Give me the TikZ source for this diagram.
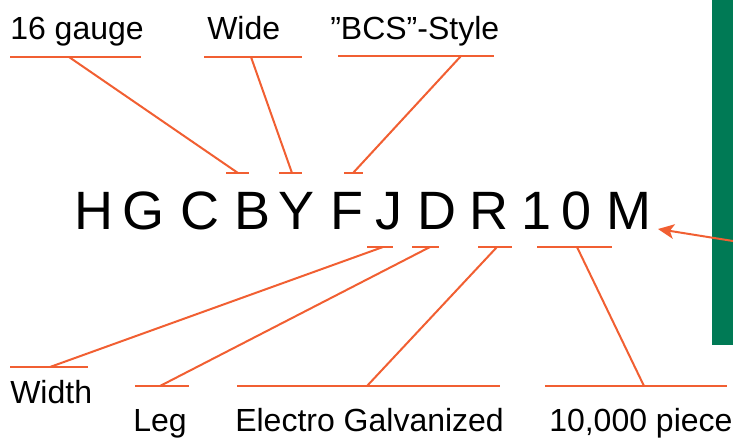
\documentclass[tikz,border=0pt]{standalone}
\usepackage{fontspec}
\setmainfont{Liberation Sans}
\usetikzlibrary{arrows.meta}
\definecolor{tagorange}{HTML}{F15F32}
\definecolor{taggreen}{HTML}{007A55}

\begin{document}
\begin{tikzpicture}[
    x=0.75pt, y=-0.75pt,
    lbl/.style={anchor=base west, inner sep=0pt, font=\fontsize{24}{29}\selectfont},
    code/.style={anchor=base, inner sep=0pt, font=\fontsize{40.5}{48}\selectfont},
    tick/.style={line width=1.5pt, tagorange},
]
    \useasboundingbox (0, 0) rectangle (733, 437);
    \fill[taggreen] (712, 0) rectangle (733, 345);

    % the part number, letter by letter
    \foreach \ch/\px [count=\i] in {H/94, G/144, C/200, B/253, Y/297, F/347, J/389, D/437, R/489, 1/537, 0/577, M/629}
        \node[code] (c\i) at (\px, 229.5) {\ch};

    % labels above
    \node[lbl] (gauge) at (10, 39) {16 gauge};
    \node[lbl] (wide) at (207, 39) {Wide};
    \node[lbl] (bcs) at (330, 39) {”BCS”-Style};

    % labels below
    \node[lbl] (width) at (10, 403) {Width};
    \node[lbl] (leg) at (133, 431) {Leg};
    \node[lbl] (galv) at (235, 431) {Electro Galvanized};
    \node[lbl] (pieces) at (549, 431) {10,000 piece};

    % underlines of the labels
    \draw[tick] (10, 57) -- (141, 57);
    \draw[tick] (204, 57) -- (302, 57);
    \draw[tick] (338, 56) -- (494, 56);
    \draw[tick] (10, 367) -- (88, 367);
    \draw[tick] (135, 386) -- (189, 386);
    \draw[tick] (237, 386) -- (500, 386);
    \draw[tick] (545, 386) -- (727, 386);

    % marks at the letters
    \draw[tick] (226, 173) -- (249, 173);
    \draw[tick] (279, 173) -- (302, 173);
    \draw[tick] (344, 173) -- (363, 173);
    \draw[tick] (367, 247) -- (393, 247);
    \draw[tick] (412, 247) -- (439, 247);
    \draw[tick] (478, 247) -- (512, 247);
    \draw[tick] (537, 247) -- (612, 247);

    \coordinate (gaugeA) at (69, 57);
    \coordinate (wideA) at (251, 57);
    \coordinate (bcsA) at (461, 56);
    \coordinate (widthA) at (50, 367);
    \coordinate (legA) at (160, 386);
    \coordinate (galvA) at (367, 386);
    \coordinate (piecesA) at (644, 386);
    \coordinate (markB) at (238, 173);
    \coordinate (markY) at (292, 173);
    \coordinate (markF) at (353, 173);
    \coordinate (markJ) at (383, 247);
    \coordinate (markD) at (430, 247);
    \coordinate (markR) at (497, 247);
    \coordinate (markTen) at (577, 247);

    \draw[tick] (gaugeA) -- (markB);
    \draw[tick] (wideA) -- (markY);
    \draw[tick] (bcsA) -- (markF);
    \draw[tick] (widthA) -- (markJ);
    \draw[tick] (legA) -- (markD);
    \draw[tick] (galvA) -- (markR);
    \draw[tick] (piecesA) -- (markTen);

    % pointer from the box
    \coordinate (boxA) at (733, 241);
    \coordinate (mTip) at (658, 229);
    \draw[tick, -{Stealth[length=12pt, width=11pt, inset=3pt]}] (boxA) -- (mTip);
\end{tikzpicture}
\end{document}
